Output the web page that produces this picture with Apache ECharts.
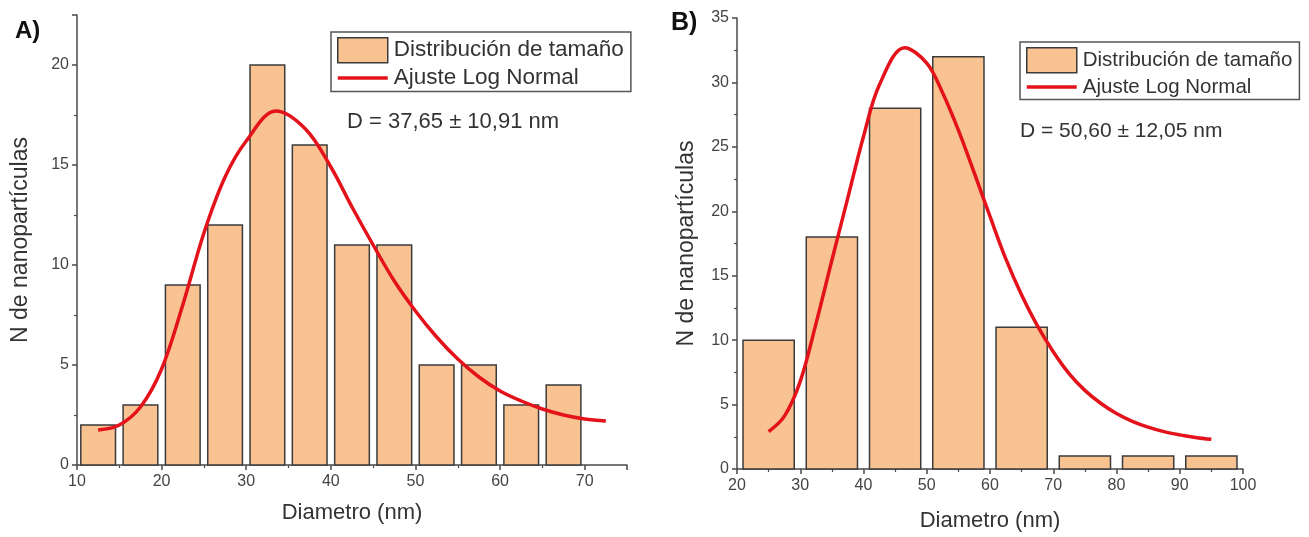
<!DOCTYPE html>
<html>
<head>
<meta charset="utf-8">
<script src="https://cdn.jsdelivr.net/npm/echarts@6/dist/echarts.min.js"></script>
<style>
  html, body { margin: 0; padding: 0; background: #fff; }
  #chart { width: 1309px; height: 537px; }
</style>
</head>
<body>
<div id="chart"></div>
<script>
// Panel A: size histogram (bin centres, counts) and log-normal fit
const binsA = [12.5, 17.5, 22.5, 27.5, 32.5, 37.5, 42.5, 47.5, 52.5, 57.5, 62.5, 67.5];
const countsA = [2, 3, 9, 12, 20, 16, 11, 11, 5, 5, 3, 4];
const fitAx = [12.5, 15, 17.5, 20, 22.5, 25, 27.5, 30, 33.5, 37, 40, 42.5, 45, 47.5, 50, 52.5, 55, 57.5, 60, 62.5, 65, 67.5, 70, 72.5];
const fitAy = [1.75, 2.0, 2.9, 4.8, 8.0, 11.6, 14.4, 16.2, 17.7, 16.8, 14.9, 12.9, 11.0, 9.2, 7.7, 6.4, 5.3, 4.4, 3.7, 3.2, 2.8, 2.5, 2.3, 2.2];
const labelA = 'D = 37,65 ± 10,91 nm';

// Panel B: size histogram and log-normal fit
const binsB = [25, 35, 45, 55, 65, 75, 85, 95];
const countsB = [10, 18, 28, 32, 11, 1, 1, 1];
const fitBx = [25, 27.5, 30, 32.5, 35, 37.5, 40, 42.5, 46.5, 50, 52.5, 55, 57.5, 60, 62.5, 65, 67.5, 70, 72.5, 75, 77.5, 80, 82.5, 85, 87.5, 90, 92.5, 95];
const fitBy = [2.9, 4.1, 6.8, 11.3, 16.2, 21.0, 25.8, 29.8, 32.7, 31.5, 29.2, 26.3, 23.0, 19.6, 16.3, 13.5, 11.1, 9.1, 7.4, 6.1, 5.1, 4.3, 3.7, 3.25, 2.9, 2.65, 2.45, 2.3];
const labelB = 'D = 50,60 ± 12,05 nm';

const xTitle = 'Diametro (nm)';
const yTitle = 'N de nanopartículas';
const histName = 'Distribución de tamaño';
const fitName = 'Ajuste Log Normal';

const FONT = '"Liberation Sans", Arial, sans-serif';
const BAR_FILL = '#F9C291';
const BAR_EDGE = '#3b3b3b';
const FIT_RED = '#E3121B';
const AXIS_GREY = '#4a4a4a';

const zip = (a, b) => a.map((v, i) => [v, b[i]]);

// Histogram bars drawn through the axis scale; drawn width is a fraction of the bin
function barRenderer(drawnWidth) {
  return function (params, api) {
    const x = api.value(0), y = api.value(1);
    const p0 = api.coord([x - drawnWidth / 2, y]);
    const p1 = api.coord([x + drawnWidth / 2, 0]);
    return {
      type: 'rect',
      shape: { x: p0[0], y: p0[1], width: p1[0] - p0[0], height: p1[1] - p0[1] },
      style: { fill: BAR_FILL, stroke: BAR_EDGE, lineWidth: 1.5 }
    };
  };
}

function xAxisCfg(idx, min, max, gap) {
  return {
    type: 'value', gridIndex: idx, min: min, max: max, interval: 10,
    name: xTitle, nameLocation: 'middle', nameGap: gap,
    nameTextStyle: { fontFamily: FONT, fontSize: 22, color: '#333', verticalAlign: 'top' },
    axisLine: { show: true, onZero: false, lineStyle: { color: AXIS_GREY, width: 1.5 } },
    axisTick: { show: true, length: 5, lineStyle: { color: AXIS_GREY, width: 1.5 } },
    minorTick: { show: true, splitNumber: 2, length: 3, lineStyle: { color: AXIS_GREY, width: 1.2 } },
    axisLabel: {
      fontFamily: FONT, fontSize: 16, color: '#444', margin: 9,
      formatter: v => (v % 10 === 0 ? String(v) : '')
    },
    splitLine: { show: false }
  };
}

function yAxisCfg(idx, max, gap) {
  return {
    type: 'value', gridIndex: idx, min: 0, max: max, interval: 5,
    name: yTitle, nameLocation: 'middle', nameGap: gap, nameRotate: 90,
    nameTextStyle: { fontFamily: FONT, fontSize: 23, color: '#333' },
    axisLine: { show: true, lineStyle: { color: AXIS_GREY, width: 1.5 } },
    axisTick: { show: true, length: 5, lineStyle: { color: AXIS_GREY, width: 1.5 } },
    minorTick: { show: true, splitNumber: 2, length: 3, lineStyle: { color: AXIS_GREY, width: 1.2 } },
    axisLabel: {
      fontFamily: FONT, fontSize: 16, color: '#444', margin: 8,
      formatter: v => (v % 5 === 0 ? String(v) : '')
    },
    splitLine: { show: false }
  };
}

function legendCfg(left, top, fontSize) {
  return {
    orient: 'vertical', left: left, top: top,
    itemWidth: 50, itemHeight: 25, itemGap: 3,
    padding: [5, 7, 2, 5],
    borderColor: '#555', borderWidth: 1.5, backgroundColor: '#fff',
    selectedMode: false,
    textStyle: { fontFamily: FONT, fontSize: fontSize, color: '#333', padding: [0, 0, 0, 1] },
    data: [
      { name: histName, icon: 'rect', itemStyle: { color: BAR_FILL, borderColor: BAR_EDGE, borderWidth: 1.5 } },
      // plain line sample: the marker part of the line icon is made invisible
      {
        name: fitName,
        itemStyle: { color: 'rgba(0,0,0,0)', borderWidth: 0, opacity: 0 },
        lineStyle: { color: FIT_RED, width: 3.5 }
      }
    ]
  };
}

const chart = echarts.init(document.getElementById('chart'), null, { renderer: 'canvas' });

chart.setOption({
  backgroundColor: '#fff',
  animation: false,
  grid: [
    { left: 77, top: 15, width: 550, height: 450 },
    { left: 737, top: 18, width: 506, height: 451 }
  ],
  xAxis: [xAxisCfg(0, 10, 75, 37), xAxisCfg(1, 20, 100, 41)],
  yAxis: [yAxisCfg(0, 22.5, 45), yAxisCfg(1, 35, 39)],
  legend: [legendCfg(331, 32, 22.5), legendCfg(1020, 42, 20.5)],
  graphic: [
    { type: 'text', left: 15, top: 19, style: { text: 'A)', fontFamily: FONT, fontWeight: 'bold', fontSize: 24, fill: '#111' } },
    { type: 'text', left: 671, top: 11, style: { text: 'B)', fontFamily: FONT, fontWeight: 'bold', fontSize: 25, fill: '#111' } },
    { type: 'text', left: 347, top: 111, style: { text: labelA, fontFamily: FONT, fontSize: 22, fill: '#333' } },
    { type: 'text', left: 1020, top: 121, style: { text: labelB, fontFamily: FONT, fontSize: 21, fill: '#333' } }
  ],
  series: [
    {
      name: histName, type: 'custom', xAxisIndex: 0, yAxisIndex: 0,
      renderItem: barRenderer(4.1), encode: { x: 0, y: 1 },
      itemStyle: { color: BAR_FILL, borderColor: BAR_EDGE, borderWidth: 1.5 },
      data: zip(binsA, countsA), z: 2
    },
    {
      name: fitName, type: 'line', xAxisIndex: 0, yAxisIndex: 0,
      data: zip(fitAx, fitAy), smooth: 0.35, symbol: 'none',
      lineStyle: { color: FIT_RED, width: 3.5 }, itemStyle: { color: FIT_RED }, z: 3
    },
    {
      name: histName, type: 'custom', xAxisIndex: 1, yAxisIndex: 1,
      renderItem: barRenderer(8.1), encode: { x: 0, y: 1 },
      itemStyle: { color: BAR_FILL, borderColor: BAR_EDGE, borderWidth: 1.5 },
      data: zip(binsB, countsB), z: 2
    },
    {
      name: fitName, type: 'line', xAxisIndex: 1, yAxisIndex: 1,
      data: zip(fitBx, fitBy), smooth: 0.35, symbol: 'none',
      lineStyle: { color: FIT_RED, width: 3.5 }, itemStyle: { color: FIT_RED }, z: 3
    }
  ]
});
</script>
</body>
</html>
